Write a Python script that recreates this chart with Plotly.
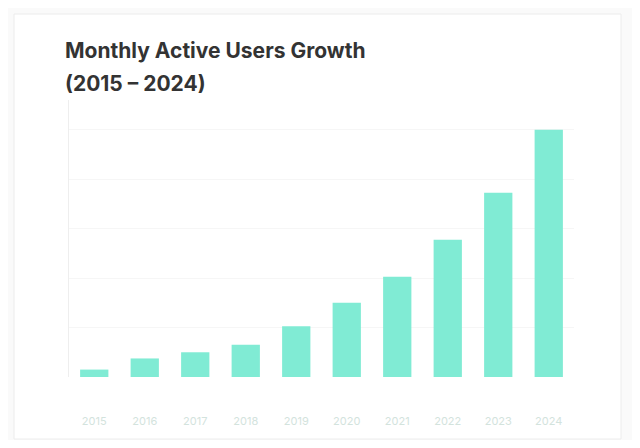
import plotly.graph_objects as go

years = ["2015", "2016", "2017", "2018", "2019", "2020", "2021", "2022", "2023", "2024"]
users = [30, 75, 100, 130, 205, 300, 405, 555, 745, 1000]

title_line1 = "Monthly Active Users Growth"
title_line2 = "(2015 – 2024)"

OFF = 8  # page body margin
W, H = 640 - 2 * OFF, 448 - 2 * OFF
ml, mr, mt, mb = 69 - OFF, 66 - OFF, 100 - OFF, 71 - OFF

fig = go.Figure()
fig.add_trace(go.Bar(
    x=years, y=users,
    marker=dict(color="#80ebd4", line=dict(width=0)),
    hovertemplate="%{x}: %{y}<extra></extra>",
))

pw = W - ml - mr
ph = H - mt - mb

def px_x(p):
    return (p - OFF - ml) / pw

def px_y(p):
    return (H - mb - (p - OFF)) / ph

fig.update_layout(
    width=W, height=H,
    margin=dict(l=ml, r=mr, t=mt, b=mb),
    paper_bgcolor="#fafafa",
    plot_bgcolor="white",
    showlegend=False,
    bargap=0.44,
    font=dict(family="Inter, Roboto, sans-serif"),
    xaxis=dict(showgrid=False, showline=False, ticks="",
               tickfont=dict(size=11, color="#d3e3dd"),
               ticklabelstandoff=36),
    yaxis=dict(range=[0, 1120], showgrid=True, gridcolor="#f6f6f6",
               showticklabels=False, zeroline=False,
               showline=True, linecolor="#eeeeee", linewidth=1),
    shapes=[dict(type="rect", xref="paper", yref="paper", layer="below",
                 x0=px_x(14), x1=px_x(621), y0=px_y(439), y1=px_y(14),
                 line=dict(color="#ececec", width=1), fillcolor="white")],
    annotations=[
        dict(text="<b>" + title_line1 + "</b>", xref="paper", yref="paper",
             x=px_x(63), y=px_y(51), xanchor="left", yanchor="middle",
             showarrow=False, font=dict(size=21, color="#333333")),
        dict(text="<b>" + title_line2 + "</b>", xref="paper", yref="paper",
             x=px_x(63), y=px_y(83), xanchor="left", yanchor="middle",
             showarrow=False, font=dict(size=21, color="#333333")),
    ],
)

fig.write_html("out.html")
